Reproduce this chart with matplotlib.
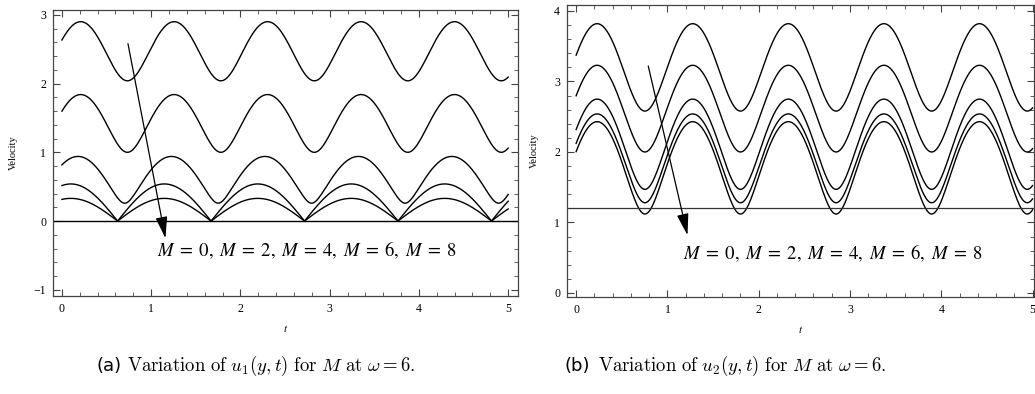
import numpy as np
import matplotlib
matplotlib.use("Agg")
import matplotlib.pyplot as plt
from matplotlib.ticker import MultipleLocator

plt.rcParams['mathtext.fontset'] = 'stix'

# ---- data ----
omega = 6.0                      # from caption
t_range = (0.0, 5.0)
M_values = [0, 2, 4, 6, 8]

# panel (a): u1 peak value, trough value, time of first peak
u1_peak = [2.90, 1.84, 0.94, 0.54, 0.33]
u1_trough = [2.04, 1.00, 0.26, 0.00, 0.00]
u1_tpeak = [0.21, 0.21, 0.18, 0.10, 0.10]
u1_ref_line = 0.0

# panel (b): u2 peak value, trough value, time of first peak
u2_peak = [3.82, 3.23, 2.75, 2.54, 2.43]
u2_trough = [2.58, 2.00, 1.47, 1.28, 1.12]
u2_tpeak = [0.23, 0.23, 0.23, 0.23, 0.23]
u2_ref_line = 1.2

# arrows (start, tip) and label positions in data units
arrow_a = ((0.74, 2.58), (1.16, -0.25))
arrow_b = ((0.79, 3.22), (1.22, 0.82))
label_a_pos = (1.07, -0.42)
label_b_pos = (1.17, 0.57)

x_ticks = [0, 1, 2, 3, 4, 5]
y_ticks_a = [-1, 0, 1, 2, 3]
y_ticks_b = [0, 1, 2, 3, 4]

label_text = r'$M\;=\;0,\;M\;=\;2,\;M\;=\;4,\;M\;=\;6,\;M\;=\;8$'


def velocity(t, peak, trough, tp):
    # magnitude |a + b e^{i w (t - tp)}| with a+b = peak, |a-b| = trough
    a = 0.5 * (peak + trough)
    b = 0.5 * (peak - trough)
    return np.sqrt(np.maximum(a * a + b * b + 2 * a * b * np.cos(omega * (t - tp)), 0.0))


t = np.linspace(t_range[0], t_range[1], 1500)

fig = plt.figure(figsize=(10.35, 3.94), dpi=100)
ax1 = fig.add_axes([53 / 1035, 1 - 296 / 394, (518 - 53) / 1035, (296 - 10) / 394])
ax2 = fig.add_axes([567 / 1035, 1 - 297 / 394, (1034 - 567) / 1035, (297 - 5) / 394])


def style(ax, xlim, ylim, yticks):
    ax.set_xlim(*xlim)
    ax.set_ylim(*ylim)
    ax.set_xticks(x_ticks)
    ax.set_yticks(yticks)
    ax.xaxis.set_minor_locator(MultipleLocator(0.2))
    ax.yaxis.set_minor_locator(MultipleLocator(0.2))
    ax.tick_params(which='both', direction='in', top=True, right=True, color='#444444',
                   labelsize=8.5, pad=5)
    ax.tick_params(which='major', length=5, width=0.8)
    ax.tick_params(which='minor', length=3, width=0.6)
    ax.tick_params(labeltop=False, labelright=False)
    for lab in ax.get_xticklabels() + ax.get_yticklabels():
        lab.set_fontfamily('Liberation Serif')
    for s in ax.spines.values():
        s.set_color('#444444')
        s.set_linewidth(0.9)
    ax.set_ylabel('Velocity', fontfamily='Liberation Serif', fontsize=7.5, labelpad=11)
    ax.set_xlabel('$t$', fontsize=8, labelpad=6)


# panel (a)
for pk, tr, tp in zip(u1_peak, u1_trough, u1_tpeak):
    ax1.plot(t, velocity(t, pk, tr, tp), color='black', lw=1.0)
ax1.axhline(u1_ref_line, color='black', lw=1.0)
ax1.annotate('', xy=arrow_a[1], xytext=arrow_a[0],
             arrowprops=dict(arrowstyle='-|>,head_length=1.1,head_width=0.3',
                             mutation_scale=12, lw=0.9, color='black', shrinkA=0, shrinkB=0))
ax1.text(label_a_pos[0], label_a_pos[1], label_text, fontsize=13.5, va='center', ha='left')
style(ax1, (-0.1, 5.11), (-1.09, 3.07), y_ticks_a)

# panel (b)
for pk, tr, tp in zip(u2_peak, u2_trough, u2_tpeak):
    ax2.plot(t, velocity(t, pk, tr, tp), color='black', lw=1.0)
ax2.axhline(u2_ref_line, color='#333333', lw=0.9)
ax2.annotate('', xy=arrow_b[1], xytext=arrow_b[0],
             arrowprops=dict(arrowstyle='-|>,head_length=1.1,head_width=0.3',
                             mutation_scale=12, lw=0.9, color='black', shrinkA=0, shrinkB=0))
ax2.text(label_b_pos[0], label_b_pos[1], label_text, fontsize=13.5, va='center', ha='left')
style(ax2, (-0.1, 5.016), (-0.057, 4.085), y_ticks_b)

# captions
cap_a = r'$\mathrm{Variation\ of}\ u_1(y,t)\ \mathrm{for}\ M\ \mathrm{at}\ \omega=6.$'
cap_b = r'$\mathrm{Variation\ of}\ u_2(y,t)\ \mathrm{for}\ M\ \mathrm{at}\ \omega=6.$'
fig.text(96 / 1035, 1 - 366 / 394, '(a)', fontfamily='DejaVu Sans', fontsize=13, va='center')
fig.text(127 / 1035, 1 - 366 / 394, cap_a, fontsize=13.5, va='center',
         math_fontfamily='cm')
fig.text(565 / 1035, 1 - 366 / 394, '(b)', fontfamily='DejaVu Sans', fontsize=13, va='center')
fig.text(598 / 1035, 1 - 366 / 394, cap_b, fontsize=13.5, va='center',
         math_fontfamily='cm')

fig.savefig('out.png', dpi=100)
